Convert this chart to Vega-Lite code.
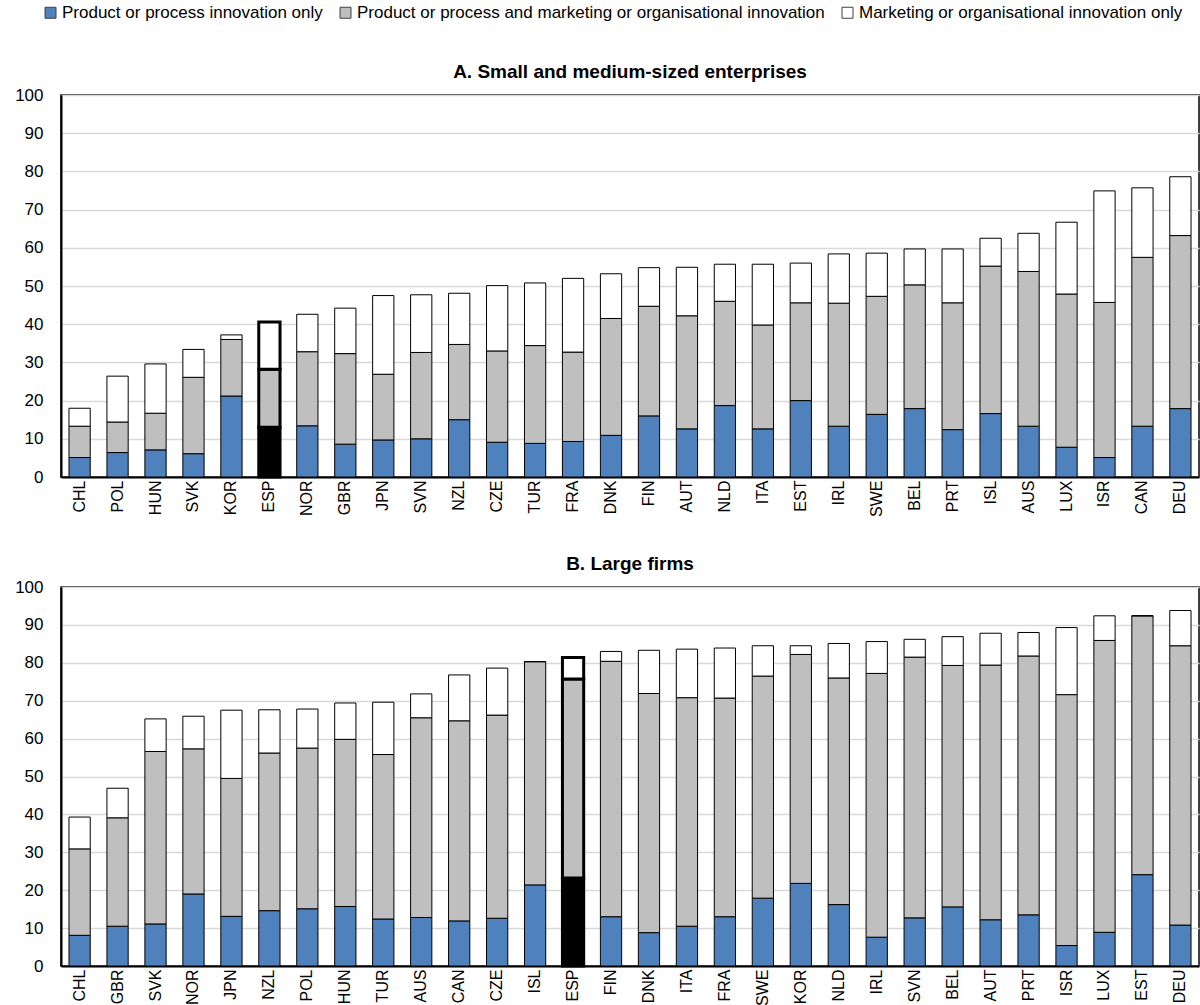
{
  "$schema": "https://vega.github.io/schema/vega-lite/v6.json",
  "padding": {"left": 13, "top": 4, "right": 2, "bottom": 0},
  "background": "white",
  "datasets": {
    "sme": [
      {"c": "CHL", "p1": 5.1, "p2": 8.2, "p3": 4.7},
      {"c": "POL", "p1": 6.4, "p2": 8.0, "p3": 12.0},
      {"c": "HUN", "p1": 7.1, "p2": 9.6, "p3": 12.9},
      {"c": "SVK", "p1": 6.1, "p2": 20.0, "p3": 7.3},
      {"c": "KOR", "p1": 21.2, "p2": 14.8, "p3": 1.2},
      {"c": "ESP", "p1": 13.0, "p2": 15.2, "p3": 12.4},
      {"c": "NOR", "p1": 13.4, "p2": 19.4, "p3": 9.8},
      {"c": "GBR", "p1": 8.6, "p2": 23.7, "p3": 11.9},
      {"c": "JPN", "p1": 9.7, "p2": 17.2, "p3": 20.6},
      {"c": "SVN", "p1": 10.0, "p2": 22.6, "p3": 15.1},
      {"c": "NZL", "p1": 15.0, "p2": 19.7, "p3": 13.4},
      {"c": "CZE", "p1": 9.1, "p2": 23.9, "p3": 17.1},
      {"c": "TUR", "p1": 8.8, "p2": 25.6, "p3": 16.4},
      {"c": "FRA", "p1": 9.3, "p2": 23.4, "p3": 19.3},
      {"c": "DNK", "p1": 10.9, "p2": 30.6, "p3": 11.7},
      {"c": "FIN", "p1": 16.0, "p2": 28.7, "p3": 10.1},
      {"c": "AUT", "p1": 12.6, "p2": 29.6, "p3": 12.7},
      {"c": "NLD", "p1": 18.7, "p2": 27.3, "p3": 9.7},
      {"c": "ITA", "p1": 12.6, "p2": 27.2, "p3": 15.9},
      {"c": "EST", "p1": 20.0, "p2": 25.6, "p3": 10.4},
      {"c": "IRL", "p1": 13.3, "p2": 32.2, "p3": 12.9},
      {"c": "SWE", "p1": 16.4, "p2": 30.9, "p3": 11.3},
      {"c": "BEL", "p1": 17.9, "p2": 32.4, "p3": 9.4},
      {"c": "PRT", "p1": 12.4, "p2": 33.2, "p3": 14.1},
      {"c": "ISL", "p1": 16.6, "p2": 38.6, "p3": 7.3},
      {"c": "AUS", "p1": 13.3, "p2": 40.5, "p3": 10.0},
      {"c": "LUX", "p1": 7.8, "p2": 40.1, "p3": 18.8},
      {"c": "ISR", "p1": 5.1, "p2": 40.6, "p3": 29.2},
      {"c": "CAN", "p1": 13.3, "p2": 44.2, "p3": 18.2},
      {"c": "DEU", "p1": 17.9, "p2": 45.3, "p3": 15.4}
    ],
    "large": [
      {"c": "CHL", "p1": 8.1, "p2": 22.8, "p3": 8.4},
      {"c": "GBR", "p1": 10.5, "p2": 28.6, "p3": 7.8},
      {"c": "SVK", "p1": 11.1, "p2": 45.5, "p3": 8.6},
      {"c": "NOR", "p1": 19.0, "p2": 38.3, "p3": 8.6},
      {"c": "JPN", "p1": 13.1, "p2": 36.4, "p3": 18.0},
      {"c": "NZL", "p1": 14.6, "p2": 41.6, "p3": 11.4},
      {"c": "POL", "p1": 15.1, "p2": 42.4, "p3": 10.3},
      {"c": "HUN", "p1": 15.7, "p2": 44.1, "p3": 9.6},
      {"c": "TUR", "p1": 12.4, "p2": 43.4, "p3": 13.8},
      {"c": "AUS", "p1": 12.8, "p2": 52.7, "p3": 6.3},
      {"c": "CAN", "p1": 11.9, "p2": 52.8, "p3": 12.1},
      {"c": "CZE", "p1": 12.6, "p2": 53.6, "p3": 12.4},
      {"c": "ISL", "p1": 21.4, "p2": 58.9, "p3": 0},
      {"c": "ESP", "p1": 23.2, "p2": 52.5, "p3": 5.7},
      {"c": "FIN", "p1": 13.0, "p2": 67.4, "p3": 2.6},
      {"c": "DNK", "p1": 8.8, "p2": 63.1, "p3": 11.4},
      {"c": "ITA", "p1": 10.5, "p2": 60.3, "p3": 12.8},
      {"c": "FRA", "p1": 13.0, "p2": 57.7, "p3": 13.2},
      {"c": "SWE", "p1": 17.9, "p2": 58.6, "p3": 8.0},
      {"c": "KOR", "p1": 21.8, "p2": 60.4, "p3": 2.3},
      {"c": "NLD", "p1": 16.2, "p2": 59.8, "p3": 9.1},
      {"c": "IRL", "p1": 7.6, "p2": 69.6, "p3": 8.4},
      {"c": "SVN", "p1": 12.7, "p2": 68.8, "p3": 4.7},
      {"c": "BEL", "p1": 15.6, "p2": 63.7, "p3": 7.6},
      {"c": "AUT", "p1": 12.2, "p2": 67.2, "p3": 8.4},
      {"c": "PRT", "p1": 13.5, "p2": 68.3, "p3": 6.2},
      {"c": "ISR", "p1": 5.4, "p2": 66.2, "p3": 17.7},
      {"c": "LUX", "p1": 8.9, "p2": 77.0, "p3": 6.5},
      {"c": "EST", "p1": 24.1, "p2": 68.3, "p3": 0},
      {"c": "DEU", "p1": 10.8, "p2": 73.7, "p3": 9.3}
    ]
  },
  "vconcat": [
    {
      "title": "A. Small and medium-sized enterprises",
      "width": 1138,
      "height": 382,
      "data": {"name": "sme"},
      "transform": [{"fold": ["p1", "p2", "p3"], "as": ["key", "v"]}],
      "mark": {"type": "bar", "stroke": "black"},
      "encoding": {
        "x": {"field": "c", "type": "nominal", "sort": null, "scale": {"paddingInner": 0.44, "paddingOuter": 0.21}},
        "y": {"field": "v", "type": "quantitative", "stack": "zero", "scale": {"domain": [0, 100], "nice": false}},
        "order": {"field": "key", "sort": "ascending"},
        "color": {
          "condition": {"test": "datum.c === 'ESP' && datum.key === 'p1'", "value": "black"},
          "field": "key", "type": "nominal",
          "scale": {"domain": ["p1", "p2", "p3"], "range": ["#4F81BD", "#BFBFBF", "#FFFFFF"]},
          "legend": {
            "orient": "none", "legendX": -19, "legendY": -91, "direction": "horizontal", "title": null,
            "labelExpr": "datum.label === 'p1' ? 'Product or process innovation only' : datum.label === 'p2' ? 'Product or process and marketing or organisational innovation' : 'Marketing or organisational innovation only'"
          }
        },
        "strokeWidth": {"condition": {"test": "datum.c === 'ESP'", "value": 3}, "value": 1}
      }
    },
    {
      "title": "B. Large firms",
      "width": 1138,
      "height": 379,
      "data": {"name": "large"},
      "transform": [{"fold": ["p1", "p2", "p3"], "as": ["key", "v"]}],
      "mark": {"type": "bar", "stroke": "black"},
      "encoding": {
        "x": {"field": "c", "type": "nominal", "sort": null, "scale": {"paddingInner": 0.44, "paddingOuter": 0.21}},
        "y": {"field": "v", "type": "quantitative", "stack": "zero", "scale": {"domain": [0, 100], "nice": false}},
        "order": {"field": "key", "sort": "ascending"},
        "color": {
          "condition": {"test": "datum.c === 'ESP' && datum.key === 'p1'", "value": "black"},
          "field": "key", "type": "nominal",
          "scale": {"domain": ["p1", "p2", "p3"], "range": ["#4F81BD", "#BFBFBF", "#FFFFFF"]}
        },
        "strokeWidth": {"condition": {"test": "datum.c === 'ESP'", "value": 3}, "value": 1}
      }
    }
  ],
  "spacing": 36,
  "resolve": {"scale": {"color": "shared", "x": "independent"}, "legend": {"color": "shared"}},
  "config": {
    "font": "Liberation Sans",
    "view": {"stroke": "black", "strokeWidth": 1.5},
    "axisX": {"title": null, "labelAngle": -90, "labelAlign": "right", "labelBaseline": "middle", "labelFontSize": 16, "labelColor": "black", "labelPadding": 3, "ticks": false, "domainColor": "black", "domainWidth": 2, "grid": false},
    "axisY": {"title": null, "values": [0, 10, 20, 30, 40, 50, 60, 70, 80, 90, 100], "labelFontSize": 17, "labelColor": "black", "labelPadding": 18, "ticks": false, "domainColor": "black", "domainWidth": 2, "grid": true, "gridColor": "#d9d9d9", "gridWidth": 1.5},
    "title": {"fontSize": 19, "fontWeight": "bold", "color": "black", "anchor": "middle", "offset": 0},
    "legend": {"symbolType": "square", "symbolSize": 121, "symbolStrokeColor": "#404040", "symbolStrokeWidth": 1, "labelFontSize": 17, "labelColor": "black", "labelOffset": 3, "columnPadding": 14, "labelLimit": 700}
  }
}
